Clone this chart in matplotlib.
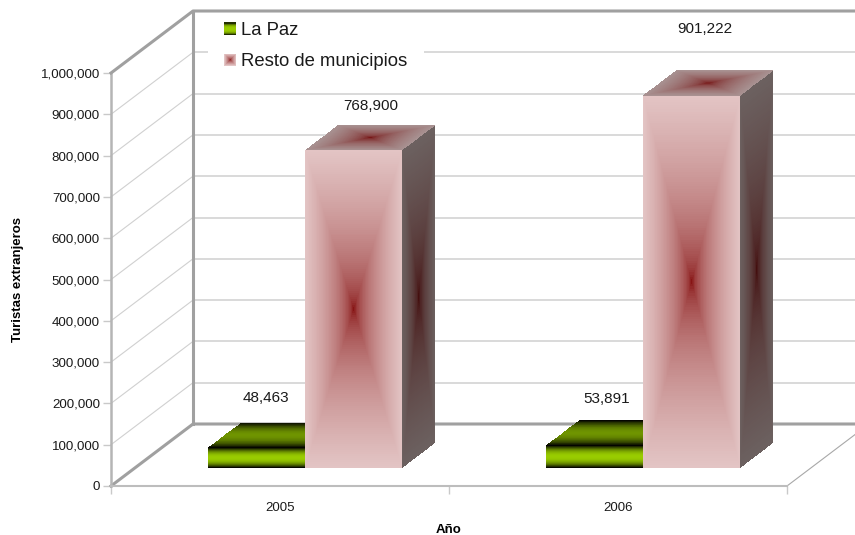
import numpy as np
import matplotlib
matplotlib.use("Agg")
import matplotlib.pyplot as plt
from matplotlib.colors import to_rgb
from matplotlib.legend_handler import HandlerBase
from matplotlib.patches import Rectangle, Patch

plt.rcParams['font.family'] = ['Liberation Sans', 'DejaVu Sans']

years = ['2005', '2006']
series_names = ['La Paz', 'Resto de municipios']
la_paz = [48463, 53891]
resto = [768900, 901222]
y_ticks = list(range(0, 1000001, 100000))
label_offsets_lapaz = [(-7, 25), (-5, 21)]
label_offsets_resto = [(0, 19), (-3, 41)]

W, H = 855, 535
X0, X1, Y0, Y1 = 111, 787, 486, 73   # axes box in pixels
fig = plt.figure(figsize=(W / 100, H / 100), dpi=100)
ax = fig.add_axes([X0 / W, 1 - Y0 / H, (X1 - X0) / W, (Y0 - Y1) / H])
ax.set_xlim(0, 2)
ax.set_ylim(0, 1000000)

DX = 82 / ((X1 - X0) / 2)          # depth shift in category units
DY = 62 / ((Y0 - Y1) / 1000000)    # depth shift in value units


def P(x, v, d):
    return x + d * DX, v + d * DY


FRAME = '#a0a0a0'
GRID = '#d0d0d0'
XMAX = 2.0
kw = dict(clip_on=False)
# grid on left and back walls
for v in y_ticks[1:-1]:
    x, y = zip(P(0, v, 0), P(0, v, 1))
    ax.plot(x, y, color=GRID, lw=0.8, zorder=1, **kw)
    x, y = zip(P(0, v, 1), P(XMAX, v, 1))
    ax.plot(x, y, color=GRID, lw=1.1, zorder=1, **kw)
# right floor edge
x, y = zip(P(2, 0, 0), P(2, 0, 1))
ax.plot(x, y, color='#a8a8a8', lw=0.8, zorder=1, **kw)
# wall frame
for pts, z in (([P(0, 0, 0), P(0, 0, 1), P(XMAX, 0, 1)], 2),
               ([P(0, 1e6, 0), P(0, 1e6, 1), P(XMAX, 1e6, 1)], 5.5),
               ([P(0, 0, 1), P(0, 1e6, 1)], 2)):
    x, y = zip(*pts)
    ax.plot(x, y, color=FRAME, lw=2.2, zorder=z, solid_capstyle='projecting', **kw)


def mix(inner, outer, t):
    a, b = np.array(to_rgb(inner)), np.array(to_rgb(outer))
    return a[None, None, :] * (1 - t[..., None]) + b[None, None, :] * t[..., None]


def face(xs, ys, rgb, z):
    ax.pcolormesh(xs, ys, rgb, shading='flat', antialiased=False, linewidth=0,
                  zorder=z, clip_on=False, rasterized=True)


def grad_rect(ni, nj, power=.45):
    u = np.abs((np.arange(nj) + .5) / nj * 2 - 1)
    v = np.abs((np.arange(ni) + .5) / ni * 2 - 1)
    return np.maximum.outer(v, u) ** power


def grad_band(ni, nj, power=1.0):
    v = np.abs((np.arange(ni) + .5) / ni * 2 - 1) ** power
    return np.repeat(v[:, None], nj, axis=1)


def box(left, right, value, d0, d1, styles, z):
    n = 160
    us = np.linspace(left, right, n + 1)
    vs = np.linspace(0, value, n + 1)
    ds = np.linspace(d0, d1, 61)
    # right side
    D, V = np.meshgrid(ds, vs)
    xs, ys = P(right, V, D)
    face(xs, ys, styles['side'](n, 60), z)
    # top
    D, U = np.meshgrid(ds, us, indexing='ij')
    xs, ys = P(U, value, D)
    face(xs, ys, styles['top'](60, n), z)
    # front
    U, V = np.meshgrid(us, vs)
    xs, ys = P(U, V, d0)
    face(xs, ys, styles['front'](n, n), z + .1)


resto_style = {
    'front': lambda a, b: mix('#7d0000', '#e3c5c5', grad_rect(a, b)),
    'side': lambda a, b: mix('#3c0000', '#6c6160', grad_rect(a, b)),
    'top': lambda a, b: mix('#6e0000', '#a89292', grad_rect(a, b)),
}
lapaz_style = {
    'front': lambda a, b: mix('#99cc00', '#000000', grad_band(a, b, 2.2)),
    'side': lambda a, b: mix('#4d6600', '#000000', grad_band(a, b, 2.2)),
    'top': lambda a, b: mix('#6f9400', '#000000', grad_band(a, b, 2.0)),
}

BAR_W = 0.287
D0, D1 = 0.295, 0.70
for i in range(len(years)):
    c = i + .503
    box(c - BAR_W, c, la_paz[i], D0, D1, lapaz_style, 3)
    box(c, c + BAR_W, resto[i], D0, D1, resto_style, 4)
    for left, val, off in ((c - BAR_W, la_paz[i], label_offsets_lapaz[i]),
                           (c, resto[i], label_offsets_resto[i])):
        xa, ya = P(left + BAR_W / 2, val, D1)
        xa2, _ = P(left + BAR_W / 2, val, (D0 + D1) / 2)
        ax.annotate(f'{val:,}', (xa2, ya), xytext=(off[0] * .72, off[1] * .72),
                    textcoords='offset points', ha='center', va='center',
                    fontsize=11, color='#1a1a1a', zorder=6, annotation_clip=False)

# axes
for s in ('top', 'right'):
    ax.spines[s].set_visible(False)
ax.spines['left'].set_color('#b5b5b5')
ax.spines['left'].set_linewidth(1.8)
ax.spines['bottom'].set_color('#bdbdbd')
ax.spines['bottom'].set_linewidth(1.5)
ax.patch.set_visible(False)
ax.set_yticks(y_ticks)
ax.set_yticklabels([f'{v:,}' for v in y_ticks], fontsize=9.6, color='#1a1a1a')
ax.set_xticks([0, 1, 2])
ax.set_xticklabels([])
ax.set_xticks([.5, 1.5], labels=years, minor=True, fontsize=9.5, color='#1a1a1a')
ax.tick_params(axis='x', which='major', length=6, width=1, color='#c9c9c9')
ax.tick_params(axis='x', which='minor', length=0, pad=11.7)
ax.tick_params(axis='y', length=6, width=1, color='#c9c9c9', pad=2)
ax.set_xlabel('Año', fontsize=9.5, fontweight='bold', color='black', va='center')
ax.xaxis.set_label_coords(.5, 1 - (530 - Y1) / (Y0 - Y1), transform=ax.transAxes)
ax.set_ylabel('Turistas extranjeros', fontsize=9.5, fontweight='bold', color='black', va='center')
ax.yaxis.set_label_coords((18 - X0) / (X1 - X0), .5, transform=ax.transAxes)


class GradHandler(HandlerBase):
    def create_artists(self, legend, orig, xd, yd, w, h, fs, trans):
        n = 12
        arts = []
        side = 12 * .72
        x0, y0 = -xd, -yd + (h - side) / 2
        if orig.get_label() == series_names[0]:
            for k in range(n):
                t = abs((k + .5) / n * 2 - 1) ** 3
                col = mix('#99cc00', '#000000', np.array([[t]]))[0, 0]
                arts.append(Rectangle((x0, y0 + side * k / n), side, side / n + .3,
                                      fc=col, ec='none', transform=trans))
        else:
            for k in range(n):
                t = 1 - k / n
                col = mix('#7d0000', '#e3c5c5', np.array([[t ** .6]]))[0, 0]
                f = t
                arts.append(Rectangle((x0 + side * (1 - f) / 2, y0 + side * (1 - f) / 2),
                                      side * f, side * f, fc=col, ec='none', transform=trans))
        return arts


handles = [Patch(label=series_names[0]), Patch(label=series_names[1])]
leg = ax.legend(handles=handles, handler_map={Patch: GradHandler()},
                loc='upper left', bbox_to_anchor=(208 / W, 1 - 6 / H),
                bbox_transform=fig.transFigure, fontsize=13.3, frameon=True,
                facecolor='white', edgecolor='none', framealpha=1, fancybox=False,
                borderaxespad=0, borderpad=.88, labelspacing=.75,
                handlelength=.65, handleheight=.65, handletextpad=.27)
leg.set_zorder(5)
for t in leg.get_texts():
    t.set_color('#1a1a1a')

fig.savefig('out.png', dpi=100)
